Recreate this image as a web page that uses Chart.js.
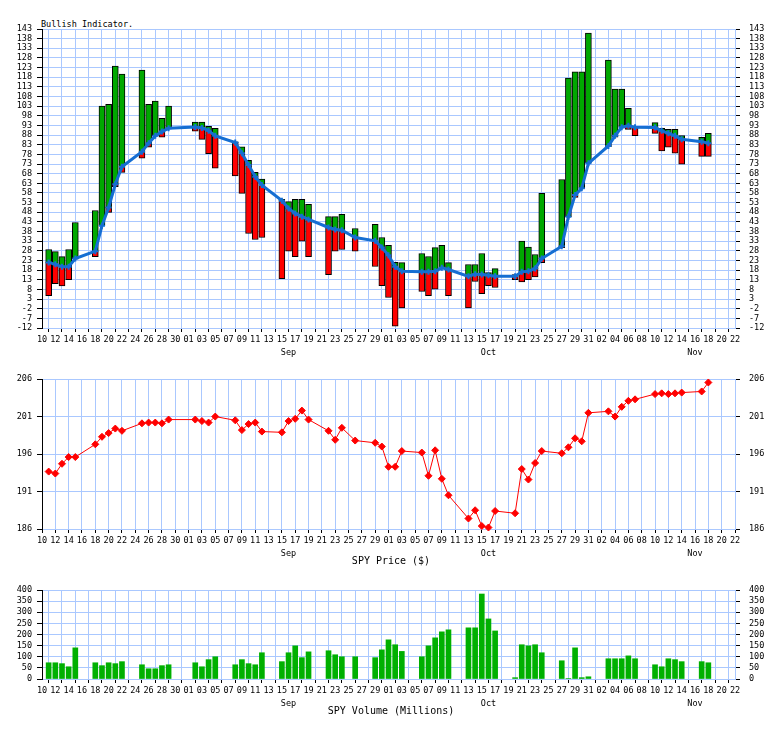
<!DOCTYPE html>
<html><head><meta charset="utf-8">
<script src="https://cdn.jsdelivr.net/npm/chart.js@4.4.1/dist/chart.umd.min.js"></script>
<style>
html,body{margin:0;padding:0;background:#fff;}
#wrap{position:relative;width:784px;height:729px;overflow:hidden;background:#fff;}
canvas{position:absolute;left:0;}
.t{position:absolute;font-family:'DejaVu Sans Mono',monospace;color:#000;white-space:nowrap;}
</style></head><body>
<div id="wrap">
<div class="t" style="left:41px;top:18px;font-size:8.5px;line-height:12px;">Bullish Indicator.</div>
<canvas id="c1" width="784" height="360" style="top:0px"></canvas>
<canvas id="c2" width="784" height="196" style="top:365px"></canvas>
<div class="t" style="left:0;width:782px;text-align:center;top:555px;font-size:10px;line-height:12px;">SPY Price ($)</div>
<canvas id="c3" width="784" height="136" style="top:575px"></canvas>
<div class="t" style="left:0;width:782px;text-align:center;top:705px;font-size:10px;line-height:12px;">SPY Volume (Millions)</div>
</div>
<script>
// ---- data (2014) ----
const dates = ['08-11','08-12','08-13','08-14','08-15','08-18','08-19','08-20','08-21','08-22',
 '08-25','08-26','08-27','08-28','08-29','09-02','09-03','09-04','09-05','09-08','09-09','09-10','09-11','09-12',
 '09-15','09-16','09-17','09-18','09-19','09-22','09-23','09-24','09-26','09-29','09-30',
 '10-01','10-02','10-03','10-06','10-07','10-08','10-09','10-10','10-13','10-14','10-15','10-16','10-17',
 '10-20','10-21','10-22','10-23','10-24','10-27','10-28','10-29','10-30','10-31',
 '11-03','11-04','11-05','11-06','11-07','11-10','11-11','11-12','11-13','11-14','11-17','11-18'];

const bullHigh = [28.7,27.6,25.0,28.7,42.7,48.9,103,104,123.8,119.6,
 121.7,104,105.6,96.7,103,94.7,94.7,92.6,91.5,84.5,81.9,74.9,68.7,65.2,
 54.7,53.5,54.7,54.7,52.1,45.7,45.7,46.9,39.6,41.7,34.9,
 30.8,22,21.9,26.6,25.05,29.7,30.8,21.9,20.9,20.9,26.6,16.7,18.8,
 15.7,33,29.9,26.1,57.8,65,117.5,120.8,120.8,140.9,
 126.9,111.8,111.8,101.9,92.4,94.5,91.5,91,91,87.7,86.9,88.9];

const bullAvg = [22,21,19.7,19.7,24,27.8,41,50.5,62.5,71.6,
 79.4,83.8,87.6,89.8,91.5,92.2,91.7,90.3,87.6,84.1,78.6,72.5,66.4,62.1,
 54,50,47.4,45.7,44.3,40.1,39.1,38.7,34.9,33.2,29.7,
 25.7,19.7,17.4,17.1,17.1,17.4,19.2,18.3,14.8,15.9,15.7,15.3,14.8,
 14.8,17.1,17.4,18.8,24,30.4,45.7,56.9,60.4,73.4,
 82.4,87.6,92.1,92.8,92.1,91.9,90.2,88.9,87.6,85.8,84.6,83.8];

const bullLow = [4.8,11,9.8,13.1,24,25.0,41,47.9,61.2,68.7,
 76,81.7,87.6,86.9,91.5,90,85.8,78.4,70.8,66.8,57.8,37,33.9,34.9,
 13.6,27.8,25,33,25,15.7,27.8,28.7,27.8,19.9,10,
 3.8,-11.1,-1.6,6.9,4.8,8.1,19.2,4.8,-1.6,12.1,5.8,10,9,
 13.1,11.9,13.1,14.5,21.9,29.7,45.7,55.7,60.4,73.4,
 82,86.9,92.1,91,87.7,88.9,79.8,81.7,78.6,72.9,77,77];

const spyPrice = [193.66,193.4,194.7,195.6,195.6,197.3,198.3,198.8,199.4,199.1,
 200.1,200.2,200.2,200.1,200.6,200.6,200.4,200.2,201.0,200.5,199.2,200.0,200.2,199.0,
 198.9,200.4,200.7,201.8,200.6,199.1,197.9,199.5,197.8,197.5,197.0,
 194.3,194.3,196.4,196.2,193.1,196.5,192.7,190.5,187.4,188.5,186.4,186.2,188.4,
 188.1,194.0,192.6,194.8,196.4,196.1,196.9,198.1,197.7,201.5,
 201.7,201.0,202.3,203.1,203.3,204.0,204.1,204.0,204.1,204.2,204.35,205.55];

const spyVolume = [73,73,69,55,140,73,60,73,69,78,
 64,46,46,60,64,73,55,87,100,64,87,69,64,118,
 78,118,149,96,122,127,109,100,100,96,131,
 176,154,124,100,149,185,212,221,230,230,382,270,216,
 6,154,149,154,118,82,2,140,6,10,
 91,91,91,104,91,64,55,91,87,78,78,73];

const bullTicks = [143,138,133,128,123,118,113,108,103,98,93,88,83,78,73,68,63,58,53,48,43,38,33,28,23,18,13,8,3,-2,-7,-12];
const priceTicks = [186,191,196,201,206];
const volTicks = [0,50,100,150,200,250,300,350,400];
const xTickLabels = ['10','12','14','16','18','20','22','24','26','28','30',
 '01','03','05','07','09','11','13','15','17','19','21','23','25','27','29',
 '01','03','05','07','09','11','13','15','17','19','21','23','25','27','29','31',
 '02','04','06','08','10','12','14','16','18','20','22'];
const monthLabels = ['Sep','Oct','Nov'];
const monthTickDates = ['09-16','10-16','11-16'];

// ---- helpers ----
function dayIndex(s){ const [m,d] = s.split('-').map(Number); return (Date.UTC(2014,m-1,d) - Date.UTC(2014,7,10))/86400000; }
const days = dates.map(dayIndex);
const monthTickDays = monthTickDates.map(dayIndex);
const GRID = '#aac8ff';
const FONT = {family:"'DejaVu Sans Mono', monospace", size:8.5};

function xAxes(){
  return {
    x: { type:'linear', position:'bottom', min:0, max:104, offset:false, weight:0,
      afterBuildTicks: s => { s.ticks = xTickLabels.map((_,i)=>({value:i*2})); },
      ticks:{ autoSkip:false, maxRotation:0, minRotation:0, color:'#000', font:FONT, padding:3, callback:(v,i)=>xTickLabels[i] },
      grid:{ color:GRID, tickColor:'#000', tickLength:4, lineWidth:1 },
      border:{ display:true, color:GRID },
      afterFit: s => { s.height = 16; } },
    xm: { type:'linear', position:'bottom', min:0, max:104, offset:false, weight:1,
      afterBuildTicks: s => { s.ticks = monthTickDays.map(v=>({value:v})); },
      ticks:{ autoSkip:false, maxRotation:0, minRotation:0, color:'#000', font:FONT, padding:4, callback:(v,i)=>monthLabels[i] },
      grid:{ display:false, drawTicks:false }, border:{ display:false },
      afterFit: s => { s.height = 16; } }
  };
}
function yAxes(min, max, arr){
  return {
    y: { type:'linear', position:'left', min, max,
      afterBuildTicks: s => { s.ticks = arr.map(v=>({value:v})); },
      ticks:{ color:'#000', font:FONT, padding:5, autoSkip:false },
      grid:{ color:GRID, tickColor:'#000', tickLength:5 },
      border:{ color:'#000' },
      afterFit: s => { s.width = 42; } },
    yr: { type:'linear', position:'right', min, max,
      afterBuildTicks: s => { s.ticks = arr.map(v=>({value:v})); },
      ticks:{ color:'#000', font:FONT, padding:9, autoSkip:false },
      grid:{ drawOnChartArea:false, color:GRID, tickColor:'#000', tickLength:5 },
      border:{ color:GRID },
      afterFit: s => { s.width = 49; } }
  };
}
function baseOpts(padTop, min, max, arr){
  return {
    responsive:false, animation:false, events:[],
    layout:{ padding:{ top:padTop, left:0, right:0, bottom:0 } },
    plugins:{ legend:{display:false}, tooltip:{enabled:false}, title:{display:false} },
    scales: Object.assign({}, xAxes(), yAxes(min, max, arr))
  };
}

// ---- chart 1: bullish indicator ----
const greenData = [], redData = [], avgData = [];
days.forEach((d,i) => {
  if (bullHigh[i] > bullAvg[i]) greenData.push({x:d, y:[bullAvg[i], bullHigh[i]]});
  if (bullLow[i] < bullAvg[i]) redData.push({x:d, y:[bullLow[i], bullAvg[i]]});
  avgData.push({x:d, y:bullAvg[i]});
});
new Chart(document.getElementById('c1'), {
  type:'bar',
  data:{ datasets:[
    { type:'line', data:avgData, borderColor:'#156ed2', borderWidth:3, tension:0,
      pointStyle:'cross', pointRadius:3, pointBorderWidth:2, pointBorderColor:'#156ed2', pointBackgroundColor:'#156ed2', order:0 },
    { type:'bar', data:greenData, backgroundColor:'#00a800', borderColor:'#000', borderWidth:1, borderSkipped:false, barThickness:6, grouped:false, order:1 },
    { type:'bar', data:redData, backgroundColor:'#ff0000', borderColor:'#000', borderWidth:1, borderSkipped:false, barThickness:6, grouped:false, order:2 }
  ]},
  options: baseOpts(29, -12, 143, bullTicks)
});

// ---- chart 2: price ----
new Chart(document.getElementById('c2'), {
  type:'line',
  data:{ datasets:[
    { data: days.map((d,i)=>({x:d, y:spyPrice[i]})), borderColor:'#ff0000', borderWidth:1, tension:0, clip:false,
      pointStyle:'rectRot', pointRadius:3.5, pointBorderWidth:1, pointBorderColor:'#ff0000', pointBackgroundColor:'#ff0000' }
  ]},
  options: baseOpts(14, 186, 206, priceTicks)
});

// ---- chart 3: volume ----
new Chart(document.getElementById('c3'), {
  type:'bar',
  data:{ datasets:[
    { data: days.map((d,i)=>({x:d, y:spyVolume[i]})), backgroundColor:'#00b000', borderWidth:0, barThickness:5 }
  ]},
  options: baseOpts(15, 0, 400, volTicks)
});
</script>
</body></html>
